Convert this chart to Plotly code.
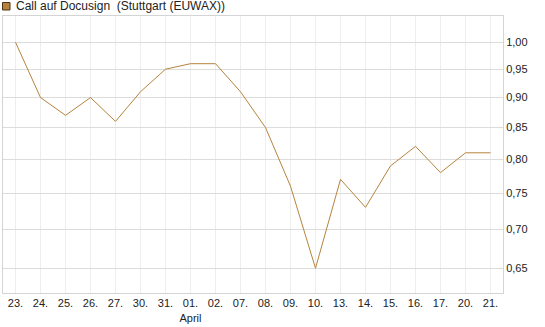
import plotly.graph_objects as go

days = ["23.", "24.", "25.", "26.", "27.", "30.", "31.", "01.", "02.", "07.",
        "08.", "09.", "10.", "13.", "14.", "15.", "16.", "17.", "20.", "21."]
tick_labels = [d if d != "01." else "01.<br>April" for d in days]
values = [1.00, 0.90, 0.87, 0.90, 0.86, 0.91, 0.95, 0.96, 0.96, 0.91,
          0.85, 0.76, 0.65, 0.77, 0.73, 0.79, 0.82, 0.78, 0.81, 0.81]
y_ticks = [0.65, 0.70, 0.75, 0.80, 0.85, 0.90, 0.95, 1.00]
series_name = "Call auf Docusign\u00a0\u00a0(Stuttgart (EUWAX))"

line_color = "#b5843c"
font = "Liberation Sans, Arial, sans-serif"

fig = go.Figure()
fig.add_trace(go.Scatter(x=days, y=values, mode="lines",
                         line=dict(color=line_color, width=1),
                         showlegend=False, hoverinfo="skip"))

W, H = 545, 327
ml, mr, mt, mb = 3, 42, 16, 34
pw, ph = W - ml - mr, H - mt - mb

def px_x(p):
    return (p - ml) / pw

def px_y(p):
    return (H - mb - p) / ph

fig.add_shape(type="rect", xref="paper", yref="paper",
              x0=px_x(2.5), x1=px_x(10), y0=px_y(10), y1=px_y(2.5),
              fillcolor=line_color, line=dict(color="#4a3517", width=1))
fig.add_annotation(text=series_name, xref="paper", yref="paper",
                   x=px_x(14), y=px_y(6.5), xanchor="left", yanchor="middle",
                   showarrow=False, font=dict(family=font, size=12, color="#222"))

fig.update_layout(
    width=W, height=H,
    margin=dict(l=ml, r=mr, t=mt, b=mb),
    paper_bgcolor="white", plot_bgcolor="white",
    separators=", ",
    font=dict(family=font, size=11, color="#222"),
    xaxis=dict(type="category", tickvals=days, ticktext=tick_labels,
               range=[-0.5, 19.5], showgrid=True, gridcolor="#eeeeee",
               gridwidth=1, showline=True, linecolor="#d4d4d4", mirror=True,
               ticks="", zeroline=False, tickfont=dict(size=11, color="#222")),
    yaxis=dict(type="log", side="right", tickvals=y_ticks, tickformat=".2f",
               range=[-0.2076, 0.02177], showgrid=True, gridcolor="#dcdcdc",
               gridwidth=1, showline=True, linecolor="#d4d4d4", mirror=True,
               ticks="", zeroline=False, tickfont=dict(size=11, color="#222")),
)

fig.write_html("out.html")
